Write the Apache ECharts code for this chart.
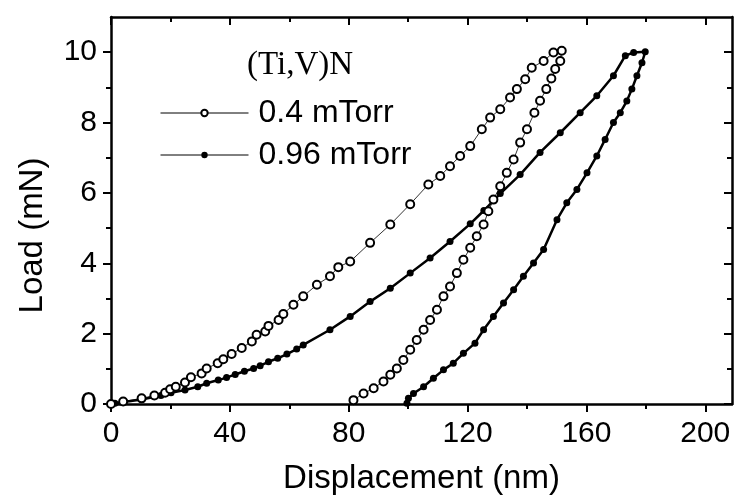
<!DOCTYPE html>
<html>
<head>
<meta charset="utf-8">
<script src="https://cdn.jsdelivr.net/npm/echarts@6/dist/echarts.min.js"></script>
<style>
  html, body { margin: 0; padding: 0; background: #fff; }
  #chart { width: 739px; height: 504px; }
</style>
</head>
<body>
<div id="chart"></div>
<script>
// ---- tick labels ----
const xTicks = [0, 40, 80, 120, 160, 200];
const xMinorTicks = [20, 60, 100, 140, 180];
const yTicks = [0, 2, 4, 6, 8, 10];
const yMinorTicks = [1, 3, 5, 7, 9];

// ---- series names ----
const seriesNames = ['0.4 mTorr', '0.96 mTorr'];
const legendTitle = '(Ti,V)N';

// ---- 0.4 mTorr (open circles): [displacement nm, load mN] ----
const lowLoading = [
  [0, 0], [4.1, 0.07], [10.3, 0.16], [14.6, 0.24], [18.2, 0.32], [19.9, 0.42],
  [21.8, 0.49], [24.9, 0.61], [26.9, 0.76], [30.5, 0.87], [32.2, 1.01], [35.9, 1.16],
  [37.8, 1.27], [40.6, 1.42], [44.0, 1.59], [47.4, 1.78], [49.0, 1.97], [51.9, 2.06],
  [53.0, 2.22], [56.4, 2.39], [58.0, 2.56], [61.4, 2.82], [64.7, 3.06], [69.3, 3.39],
  [73.7, 3.63], [76.5, 3.89], [80.5, 4.05], [87.2, 4.58], [94.0, 5.10], [100.7, 5.68],
  [106.8, 6.24], [110.8, 6.48], [114.1, 6.76], [117.5, 7.05], [120.9, 7.33], [124.8, 7.81],
  [127.6, 8.14], [131.0, 8.38], [134.3, 8.71], [136.6, 8.95], [139.4, 9.23], [141.6, 9.56],
  [145.6, 9.75], [148.9, 9.99], [151.7, 10.04]
];
const lowUnloading = [
  [151.2, 9.75], [149.5, 9.52], [148.2, 9.25], [146.5, 8.95], [144.4, 8.62], [142.5, 8.28],
  [140.0, 7.81], [137.7, 7.43], [135.5, 6.95], [133.2, 6.57], [131.0, 6.19], [128.7, 5.81],
  [127.0, 5.48], [125.4, 5.10], [123.1, 4.77], [120.9, 4.44], [118.6, 4.10], [116.4, 3.72],
  [114.1, 3.34], [111.9, 3.06], [109.7, 2.68], [107.4, 2.39], [105.2, 2.11], [102.9, 1.82],
  [100.7, 1.54], [98.4, 1.25], [96.2, 1.01], [94.0, 0.83], [91.7, 0.64], [88.4, 0.45],
  [85.0, 0.30], [81.6, 0.11]
];

// ---- 0.96 mTorr (filled circles) ----
const highLoading = [
  [0, 0], [1.3, 0.02], [10.3, 0.13], [16.8, 0.24], [20.2, 0.32], [24.9, 0.40],
  [29.2, 0.49], [32.2, 0.59], [36.1, 0.68], [38.9, 0.75], [41.8, 0.84], [44.9, 0.93],
  [48.0, 1.01], [50.2, 1.09], [53.0, 1.20], [56.1, 1.30], [59.2, 1.42], [62.5, 1.56],
  [64.7, 1.68], [73.7, 2.11], [80.5, 2.49], [87.2, 2.91], [94.0, 3.29], [100.7, 3.72],
  [107.4, 4.15], [114.1, 4.62], [120.9, 5.12], [125.5, 5.50], [131.0, 5.98], [137.7, 6.52],
  [144.4, 7.15], [151.2, 7.71], [157.9, 8.28], [163.5, 8.76], [169.1, 9.33], [173.1, 9.90],
  [175.9, 9.99], [179.8, 10.01]
];
const highUnloading = [
  [178.7, 9.70], [177.0, 9.33], [175.3, 8.95], [173.6, 8.61], [171.4, 8.28], [169.1, 8.00],
  [166.3, 7.52], [163.5, 7.05], [160.2, 6.57], [156.8, 6.10], [153.4, 5.72], [150.1, 5.24],
  [145.6, 4.39], [142.2, 4.01], [138.8, 3.63], [135.5, 3.25], [132.1, 2.87], [128.7, 2.49],
  [125.4, 2.11], [122.5, 1.73], [118.6, 1.44], [115.2, 1.16], [111.9, 0.97], [108.5, 0.73],
  [105.2, 0.49], [101.8, 0.30], [100.1, 0.16], [99.6, 0.02]
];

const FONT = 'Liberation Sans, Arial, sans-serif';
const BLACK = '#000';

function xAxisDef(position, ticks, len, inside, withLine, withLabel) {
  return {
    type: 'value', position: position, min: 0, max: 209,
    axisLine: { show: withLine, onZero: false, lineStyle: { color: BLACK, width: 2.5 } },
    axisTick: { show: true, customValues: ticks, inside: inside, length: len, lineStyle: { color: BLACK, width: 2 } },
    axisLabel: withLabel ? { show: true, customValues: ticks, color: BLACK, fontSize: 30, fontFamily: FONT, margin: 15 } : { show: false },
    splitLine: { show: false },
    name: (withLabel ? 'Displacement (nm)' : ''),
    nameLocation: 'middle', nameGap: 58,
    nameTextStyle: { color: BLACK, fontSize: 33, fontFamily: FONT }
  };
}
function yAxisDef(position, ticks, len, inside, withLine, withLabel) {
  return {
    type: 'value', position: position, min: 0, max: 11,
    axisLine: { show: withLine, onZero: false, lineStyle: { color: BLACK, width: 2.5 } },
    axisTick: { show: true, customValues: ticks, inside: inside, length: len, lineStyle: { color: BLACK, width: 2 } },
    axisLabel: withLabel ? { show: true, customValues: ticks, color: BLACK, fontSize: 30, fontFamily: FONT, margin: 14 } : { show: false },
    splitLine: { show: false },
    name: (withLabel ? 'Load (mN)' : ''),
    nameLocation: 'middle', nameGap: 62,
    nameTextStyle: { color: BLACK, fontSize: 33, fontFamily: FONT, padding: [0, 50, 0, 0] }
  };
}

const chart = echarts.init(document.getElementById('chart'), null, { renderer: 'canvas' });
chart.setOption({
  animation: false,
  backgroundColor: '#fff',
  grid: { left: 111, right: 7, top: 17, bottom: 100 },
  title: {
    text: legendTitle, left: 242, top: 44,
    textStyle: { fontFamily: 'Liberation Serif, Times New Roman, serif', fontSize: 33, fontWeight: 'normal', color: BLACK }
  },
  legend: {
    data: seriesNames, orient: 'vertical', left: 160, top: 96, padding: 0,
    itemWidth: 88, itemHeight: 8, itemGap: 8,
    lineStyle: { width: 1, color: BLACK },
    textStyle: { fontFamily: FONT, fontSize: 32, color: BLACK, lineHeight: 34, padding: [0, 0, 0, 5] }
  },
  xAxis: [
    xAxisDef('bottom', xTicks, 8, false, true, true),
    xAxisDef('bottom', xMinorTicks, 5, false, false, false),
    xAxisDef('top', xTicks, 8, true, true, false),
    xAxisDef('top', xMinorTicks, 5, true, false, false)
  ],
  yAxis: [
    yAxisDef('left', yTicks, 8, false, true, true),
    yAxisDef('left', yMinorTicks, 5, false, false, false),
    yAxisDef('right', yTicks, 8, true, true, false),
    yAxisDef('right', yMinorTicks, 5, true, false, false)
  ],
  series: [
    {
      name: seriesNames[0], type: 'line', xAxisIndex: 0, yAxisIndex: 0,
      data: lowLoading.concat(lowUnloading),
      symbol: 'emptyCircle', symbolSize: 8, showAllSymbol: true,
      lineStyle: { color: BLACK, width: 0.8 },
      itemStyle: { color: BLACK, borderColor: BLACK, borderWidth: 1 },
      z: 3
    },
    {
      name: seriesNames[1], type: 'line', xAxisIndex: 0, yAxisIndex: 0,
      data: highLoading.concat(highUnloading),
      symbol: 'circle', symbolSize: 7, showAllSymbol: true,
      lineStyle: { color: BLACK, width: 2.5 },
      itemStyle: { color: BLACK },
      z: 2
    }
  ]
});
</script>
</body>
</html>
